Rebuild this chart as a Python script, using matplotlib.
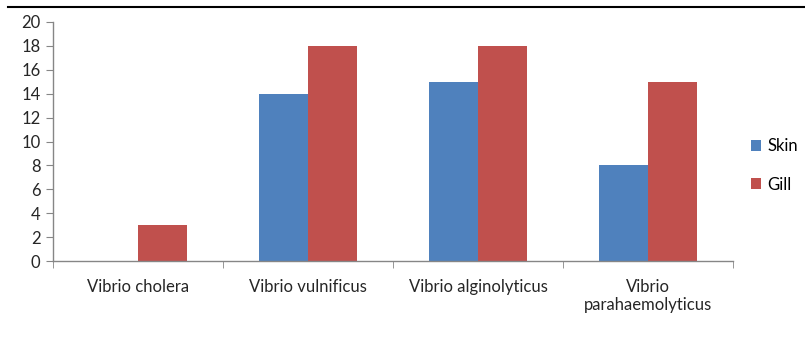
import numpy as np
import matplotlib.pyplot as plt
from matplotlib.lines import Line2D

categories = ["Vibrio cholera", "Vibrio vulnificus", "Vibrio alginolyticus", "Vibrio\nparahaemolyticus"]
skin = [0, 14, 15, 8]
gill = [3, 18, 18, 15]

BLUE = "#4F81BD"
RED = "#C0504D"
GREY = "#868686"

plt.rcParams['font.family'] = ['Lato', 'DejaVu Sans']

fig = plt.figure(figsize=(8.05, 3.38), dpi=100)
ax = fig.add_axes([53 / 805, 1 - 261 / 338, 680 / 805, 239 / 338])

x = np.arange(len(categories))
w = 1 / 3.5
ax.bar(x - w / 2, skin, w, color=BLUE, label="Skin")
ax.bar(x + w / 2, gill, w, color=RED, label="Gill")

ax.set_xlim(-0.5, len(categories) - 0.5)
ax.set_ylim(0, 20)
ax.set_yticks(range(0, 21, 2))
ax.set_xticks(x)
ax.set_xticklabels(categories, fontsize=12, color="#262626", linespacing=1.15)
ax.tick_params(axis="x", length=0, pad=13)
ax.set_xticks(np.arange(-0.5, len(categories), 1), minor=True)
ax.tick_params(axis="x", which="minor", length=5, color=GREY)
ax.tick_params(axis="y", length=5, color=GREY, labelsize=12, labelcolor="#262626", pad=4)

for s in ["top", "right"]:
    ax.spines[s].set_visible(False)
for s in ["left", "bottom"]:
    ax.spines[s].set_color(GREY)
    ax.spines[s].set_linewidth(1)

ax.legend(loc="center left", bbox_to_anchor=(1.005, 0.40), frameon=False,
          fontsize=12, handlelength=0.6, handleheight=0.6, handletextpad=0.35,
          labelspacing=1.35)

# border line at the top of the picture
fig.add_artist(Line2D([8 / 805, 1], [1 - 7 / 338, 1 - 7 / 338], color="black", lw=1.5))

fig.savefig("out.png", dpi=100)
